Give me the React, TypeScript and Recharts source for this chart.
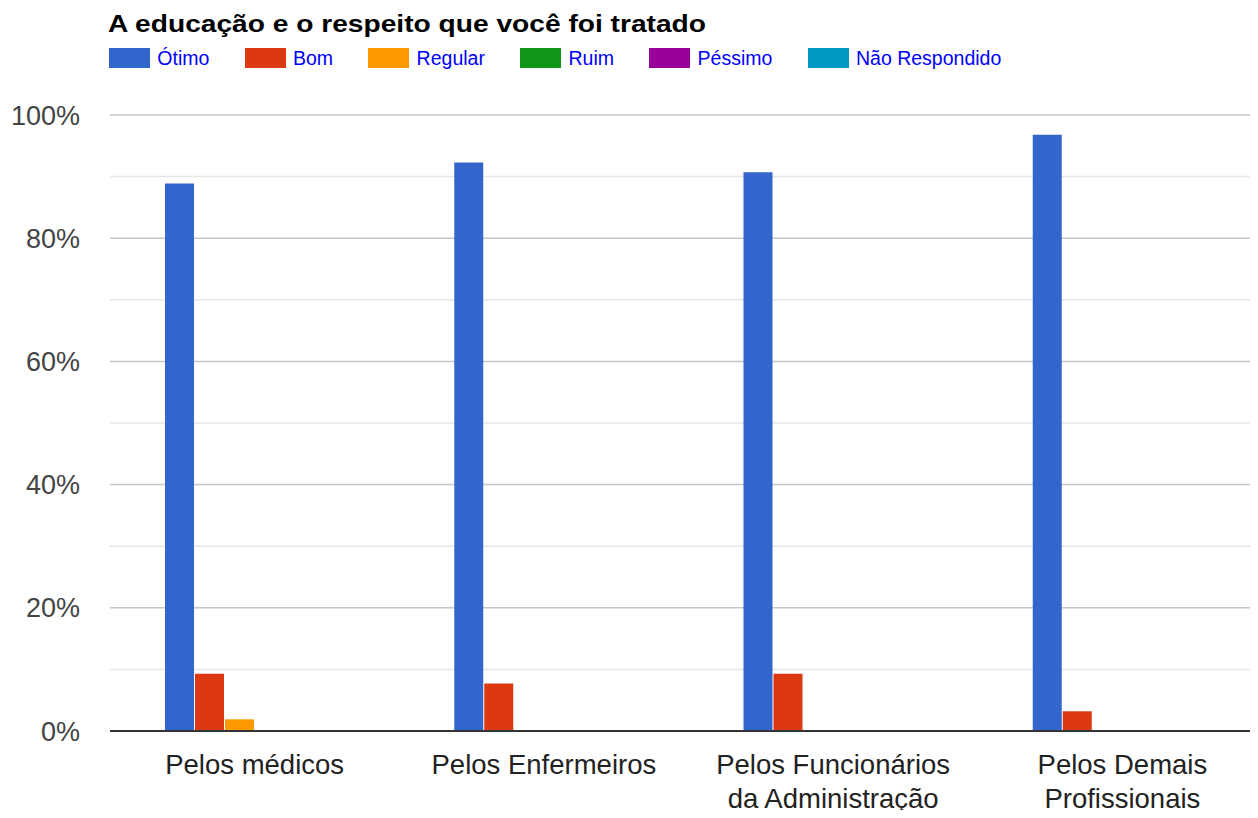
import React from "react";
import { BarChart, Bar, XAxis, YAxis, CartesianGrid } from "recharts";

const title = "A educação e o respeito que você foi tratado";
const categories = [
  "Pelos médicos",
  "Pelos Enfermeiros",
  "Pelos Funcionários\nda Administração",
  "Pelos Demais\nProfissionais",
];
const seriesNames = ["Ótimo", "Bom", "Regular", "Ruim", "Péssimo", "Não Respondido"];
const seriesColors = ["#3366cc", "#dc3912", "#ff9900", "#109618", "#990099", "#0099c6"];
const otimo = [88.9, 92.3, 90.7, 96.8];
const bom = [9.3, 7.7, 9.3, 3.2];
const regular = [1.9, 0, 0, 0];
const ruim = [0, 0, 0, 0];
const pessimo = [0, 0, 0, 0];
const naoRespondido = [0, 0, 0, 0];
const yTicks = [0, 20, 40, 60, 80, 100];
const yMinorTicks = [10, 30, 50, 70, 90];

const seriesValues = [otimo, bom, regular, ruim, pessimo, naoRespondido];
const seriesKeys = ["s0", "s1", "s2", "s3", "s4", "s5"];

const data = categories.map((c, i) => {
  const row: Record<string, any> = { name: c };
  seriesKeys.forEach((k, j) => {
    row[k] = seriesValues[j][i];
  });
  return row;
});

const FONT = "'Liberation Sans', Arial, sans-serif";

const XTick = (props: any) => {
  const { x, y, payload } = props;
  const lines = String(payload.value).split("\n");
  return (
    <text x={x} y={y} textAnchor="middle" fill="#222" fontSize={27.5} fontFamily={FONT}>
      {lines.map((l, i) => (
        <tspan key={i} x={x} dy={i === 0 ? 43 : 34}>
          {l}
        </tspan>
      ))}
    </text>
  );
};

export default function App() {
  return (
    <div
      style={{
        position: "relative",
        width: 1258,
        height: 818,
        margin: -8,
        overflow: "hidden",
        background: "#fff",
        fontFamily: FONT,
      }}
    >
      <svg width={1258} height={40} style={{ position: "absolute", left: 0, top: 0 }}>
        <text
          x={108}
          y={32}
          fontSize={24.5}
          fontWeight="bold"
          fill="#000"
          fontFamily={FONT}
          textLength={598}
          lengthAdjust="spacingAndGlyphs"
        >
          {title}
        </text>
      </svg>
      <div
        style={{
          position: "absolute",
          left: 109,
          top: 48,
          display: "flex",
          alignItems: "center",
          gap: 35.3,
        }}
      >
        {seriesNames.map((n, i) => (
          <div key={n} style={{ display: "flex", alignItems: "center" }}>
            <div style={{ width: 41, height: 20, background: seriesColors[i] }} />
            <span
              style={{
                marginLeft: 7.3,
                fontSize: 19.5,
                lineHeight: "20px",
                color: "#0000ff",
                whiteSpace: "nowrap",
              }}
            >
              {n}
            </span>
          </div>
        ))}
      </div>
      <div style={{ position: "absolute", left: 0, top: 0 }}>
        <BarChart
          width={1270}
          height={818}
          data={data}
          margin={{ top: 115, right: 3, bottom: 0, left: 0 }}
          barSize={29}
          barGap={1}
        >
          <CartesianGrid vertical={false} horizontalValues={yMinorTicks} stroke="#e6e6e6" strokeWidth={1.5} />
          <CartesianGrid vertical={false} stroke="#c6c6c6" strokeWidth={1.5} />
          <YAxis
            domain={[0, 100]}
            ticks={yTicks}
            width={110}
            axisLine={false}
            tickLine={false}
            tickSize={0}
            tickMargin={30}
            tickFormatter={(v: number) => `${v}%`}
            tick={{ fill: "#444", fontSize: 27, fontFamily: FONT }}
            interval={0}
          />
          <XAxis
            dataKey="name"
            height={87}
            tickLine={false}
            tickSize={0}
            tickMargin={0}
            axisLine={{ stroke: "#333", strokeWidth: 2 }}
            tick={<XTick />}
            interval={0}
          />
          {seriesKeys.map((k, i) => (
            <Bar key={k} dataKey={k} name={seriesNames[i]} fill={seriesColors[i]} isAnimationActive={false} />
          ))}
        </BarChart>
      </div>
    </div>
  );
}
